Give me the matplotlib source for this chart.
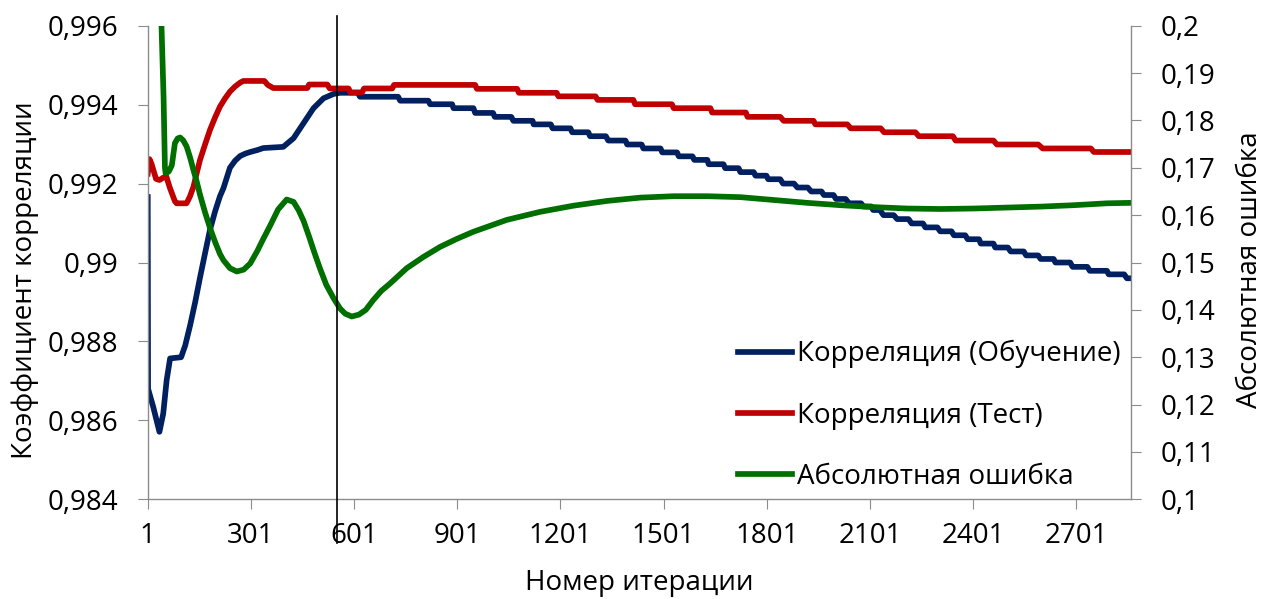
import matplotlib
matplotlib.use('Agg')
import matplotlib.pyplot as plt

plt.rcParams['font.family'] = ['Open Sans', 'DejaVu Sans']

# Корреляция (Обучение): номер итерации -> значение
train_it = [1, 2, 17, 35, 46, 56, 66, 98, 110, 124, 139, 153, 168, 182, 197, 211, 221, 240,
            255, 270, 285, 299, 320, 337, 395, 425, 454, 483, 512, 541, 560, 612, 618, 729,
            735, 817, 822, 886, 890, 948, 953, 1005, 1010, 1058, 1064, 1120, 1123, 1173, 1178,
            1230, 1235, 1282, 1287, 1333, 1340, 1390, 1395, 1437, 1442, 1492, 1497, 1540, 1545,
            1585, 1590, 1628, 1632, 1675, 1680, 1719, 1724, 1763, 1768, 1800, 1805, 1840, 1848,
            1880, 1890, 1920, 1930, 1960, 1967, 1995, 2002, 2030, 2040, 2075, 2082, 2105, 2110,
            2130, 2140, 2170, 2180, 2213, 2222, 2255, 2262, 2297, 2305, 2338, 2345, 2378, 2385,
            2418, 2423, 2460, 2465, 2502, 2510, 2548, 2555, 2590, 2597, 2635, 2640, 2683, 2690,
            2733, 2740, 2790, 2795, 2840, 2848, 2860]
train_val = [0.99166, 0.98680, 0.98634, 0.98571, 0.98617, 0.98702, 0.98757, 0.98760, 0.98790,
             0.98840, 0.98900, 0.98962, 0.99025, 0.99083, 0.99130, 0.99168, 0.99188, 0.99240,
             0.99258, 0.99270, 0.99276, 0.99280, 0.99285, 0.99290, 0.99293, 0.99315, 0.99353,
             0.99391, 0.99416, 0.99427, 0.99430, 0.99430, 0.99420, 0.99420, 0.99410, 0.99410,
             0.99401, 0.99401, 0.99391, 0.99391, 0.99379, 0.99379, 0.99369, 0.99369, 0.99359,
             0.99359, 0.99350, 0.99350, 0.99340, 0.99340, 0.99330, 0.99330, 0.99320, 0.99320,
             0.99309, 0.99309, 0.99299, 0.99299, 0.99289, 0.99289, 0.99279, 0.99279, 0.99269,
             0.99269, 0.99260, 0.99260, 0.99249, 0.99249, 0.99239, 0.99239, 0.99229, 0.99229,
             0.99220, 0.99220, 0.99211, 0.99211, 0.99200, 0.99200, 0.99190, 0.99190, 0.99180,
             0.99180, 0.99171, 0.99171, 0.99161, 0.99161, 0.99150, 0.99150, 0.99142, 0.99142,
             0.99133, 0.99133, 0.99120, 0.99120, 0.99110, 0.99110, 0.99099, 0.99099, 0.99089,
             0.99089, 0.99079, 0.99079, 0.99069, 0.99069, 0.99059, 0.99059, 0.99048, 0.99048,
             0.99038, 0.99038, 0.99028, 0.99028, 0.99018, 0.99018, 0.99009, 0.99009, 0.99000,
             0.99000, 0.98989, 0.98989, 0.98979, 0.98979, 0.98970, 0.98970, 0.98960, 0.98960]

# Корреляция (Тест)
test_it = [1, 6, 12, 25, 35, 46, 55, 65, 80, 85, 114, 124, 134, 143, 153, 168, 182, 197, 211,
           226, 240, 255, 270, 279, 340, 350, 366, 465, 470, 523, 530, 585, 590, 624, 630, 712,
           717, 953, 958, 1075, 1080, 1190, 1195, 1303, 1309, 1413, 1418, 1525, 1530, 1637,
           1642, 1740, 1745, 1840, 1850, 1937, 1942, 2035, 2045, 2132, 2142, 2233, 2243, 2342,
           2350, 2460, 2470, 2590, 2603, 2743, 2752, 2860]
test_val = [0.99225, 0.99262, 0.99250, 0.99212, 0.99209, 0.99215, 0.99218, 0.99190, 0.99155,
            0.99150, 0.99150, 0.99168, 0.99192, 0.99225, 0.99260, 0.99300, 0.99336, 0.99368,
            0.99395, 0.99416, 0.99433, 0.99446, 0.99456, 0.99460, 0.99460, 0.99450, 0.99442,
            0.99442, 0.99451, 0.99451, 0.99441, 0.99441, 0.99431, 0.99431, 0.99441, 0.99441,
            0.99450, 0.99450, 0.99440, 0.99440, 0.99430, 0.99430, 0.99421, 0.99421, 0.99412,
            0.99412, 0.99401, 0.99401, 0.99391, 0.99391, 0.99380, 0.99380, 0.99369, 0.99369,
            0.99359, 0.99359, 0.99350, 0.99350, 0.99340, 0.99340, 0.99330, 0.99330, 0.99320,
            0.99320, 0.99309, 0.99309, 0.99299, 0.99299, 0.99289, 0.99289, 0.99280, 0.99280]

# Абсолютная ошибка (правая ось)
err_it = [38, 41, 47, 51, 53, 62, 71, 80, 88, 95, 104, 114, 124, 134, 143, 153, 168, 182, 197,
          211, 221, 240, 260, 280, 299, 320, 337, 357, 380, 405, 425, 440, 454, 470, 486, 502,
          520, 541, 560, 575, 594, 615, 635, 657, 680, 706, 730, 754, 803, 851, 900, 948, 1045,
          1142, 1239, 1336, 1433, 1530, 1627, 1724, 1821, 1918, 2015, 2112, 2209, 2306, 2402,
          2499, 2596, 2693, 2790, 2860]
err_val = [0.2100, 0.2000, 0.1850, 0.1700, 0.1688, 0.1692, 0.1705, 0.1752, 0.1762, 0.1764,
           0.1758, 0.1745, 0.1722, 0.1695, 0.1672, 0.1643, 0.1605, 0.1573, 0.1543, 0.1518,
           0.1505, 0.1488, 0.1481, 0.1485, 0.1498, 0.1525, 0.1550, 0.1578, 0.1612, 0.1633,
           0.1628, 0.1610, 0.1588, 0.1555, 0.1520, 0.1487, 0.1453, 0.1425, 0.1403, 0.1392,
           0.1386, 0.1390, 0.1400, 0.1421, 0.1440, 0.1456, 0.1472, 0.1488, 0.1512, 0.1533,
           0.1550, 0.1565, 0.1590, 0.1607, 0.1620, 0.1630, 0.1637, 0.1640, 0.1640, 0.1638,
           0.1632, 0.1626, 0.1621, 0.1617, 0.1614, 0.1613, 0.1614, 0.1616, 0.1618, 0.1621,
           0.1625, 0.1626]

x_ticks = [1, 301, 601, 901, 1201, 1501, 1801, 2101, 2401, 2701]
left_ticks = [0.984, 0.986, 0.988, 0.990, 0.992, 0.994, 0.996]
left_labels = ['0,984', '0,986', '0,988', '0,99', '0,992', '0,994', '0,996']
right_ticks = [0.10, 0.11, 0.12, 0.13, 0.14, 0.15, 0.16, 0.17, 0.18, 0.19, 0.20]
right_labels = ['0,1', '0,11', '0,12', '0,13', '0,14', '0,15', '0,16', '0,17', '0,18', '0,19', '0,2']
marker_it = 551

grey = '#8C8C8C'
fs = 20
lw = 4.1

fig = plt.figure(figsize=(12.66, 5.99), dpi=100)
ax = fig.add_axes([0.1167, 0.1664, 0.7767, 0.7907])
ax2 = ax.twinx()

l1, = ax.plot(train_it, train_val, color='#002060', lw=lw, solid_joinstyle='round')
l2, = ax.plot(test_it, test_val, color='#C00000', lw=lw, solid_joinstyle='round')
l3, = ax2.plot(err_it, err_val, color='#006F00', lw=lw, solid_joinstyle='round')

ax.set_xlim(1, 2860)
ax.set_ylim(0.984, 0.996)
ax2.set_ylim(0.1, 0.2)
ax.set_xticks(x_ticks)
ax.set_xticklabels([str(t) for t in x_ticks])
ax.set_yticks(left_ticks)
ax.set_yticklabels(left_labels)
ax2.set_yticks(right_ticks)
ax2.set_yticklabels(right_labels)

for a in (ax, ax2):
    a.spines['top'].set_visible(False)
    for s in a.spines.values():
        s.set_color(grey)
        s.set_linewidth(1.0)
ax.spines['right'].set_visible(False)
ax2.spines['left'].set_visible(False)
ax2.spines['bottom'].set_visible(False)

ax.tick_params(axis='x', length=7, width=0.8, color=grey, labelsize=fs, pad=9)
ax.tick_params(axis='y', length=7, width=0.8, color=grey, labelsize=fs, pad=14)
ax2.tick_params(axis='y', length=7, width=0.8, color=grey, labelsize=fs, pad=14)

ax2.axvline(marker_it, ymin=-0.092, ymax=1.02, color='black', lw=1.2, clip_on=False)

fig.text(25 / 1266, 1 - 280 / 599, 'Коэффициент корреляции', rotation=90,
         ha='center', va='center', fontsize=fs)
fig.text(1250 / 1266, 1 - 270 / 599, 'Абсолютная ошибка', rotation=90,
         ha='center', va='center', fontsize=fs)
fig.text(639.5 / 1266, 1 - 590 / 599, 'Номер итерации', ha='center', va='baseline', fontsize=fs)

leg = ax2.legend([l1, l2, l3], ['Корреляция (Обучение)', 'Корреляция (Тест)', 'Абсолютная ошибка'],
                 loc='upper left', bbox_to_anchor=(738 / 1266, 1 - 340 / 599),
                 bbox_transform=fig.transFigure, frameon=False, fontsize=fs,
                 handlelength=1.93, handletextpad=0.2, labelspacing=1.2,
                 borderpad=0, borderaxespad=0)

fig.savefig('out.png', dpi=100)
